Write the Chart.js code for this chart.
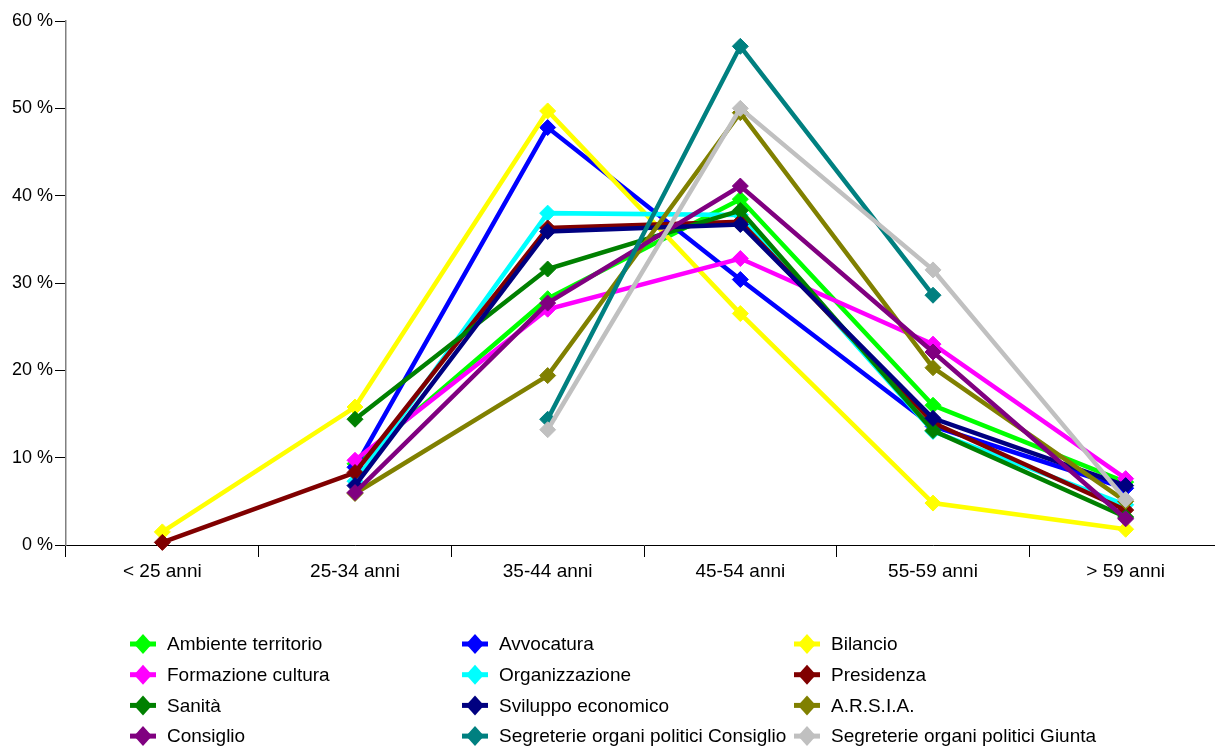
<!DOCTYPE html>
<html>
<head>
<meta charset="utf-8">
<script src="https://cdn.jsdelivr.net/npm/chart.js@4.4.0/dist/chart.umd.min.js"></script>
<style>
  html, body { margin: 0; padding: 0; background: #fff; overflow: hidden; }
  #wrap { position: relative; width: 1215px; height: 747px; overflow: hidden; }
  #wrap canvas { display: block; }
</style>
</head>
<body>
<div id="wrap"><canvas id="lineChart" width="1222" height="747"></canvas></div>
<script>
(function () {
    "use strict";

    var categories = ["< 25 anni", "25-34 anni", "35-44 anni", "45-54 anni", "55-59 anni", "> 59 anni"];
    var yTicks = [0, 10, 20, 30, 40, 50, 60];

    var ambiente = [null, 9.3, 28.2, 39.6, 16.0, 7.2];
    var avvocatura = [null, 8.9, 47.8, 30.4, 13.6, 6.5];
    var bilancio = [1.5, 15.8, 49.7, 26.5, 4.8, 1.8];
    var formazione = [null, 9.7, 27.0, 32.8, 23.0, 7.6];
    var organizzazione = [null, 7.3, 38.0, 37.8, 13.0, 4.6];
    var presidenza = [0.3, 8.3, 36.3, 37.0, 14.0, 4.0];
    var sanita = [null, 14.4, 31.6, 38.3, 13.1, 3.2];
    var sviluppo = [null, 6.8, 35.9, 36.7, 14.5, 6.8];
    var arsia = [null, 5.9, 19.4, 49.5, 20.3, 5.0];
    var consiglio = [null, 6.0, 27.7, 41.1, 22.1, 3.0];
    var segrConsiglio = [null, null, 14.4, 57.1, 28.6, null];
    var segrGiunta = [null, null, 13.2, 50.0, 31.5, 5.2];

    var seriesNames = ["Ambiente territorio", "Avvocatura", "Bilancio", "Formazione cultura",
        "Organizzazione", "Presidenza", "Sanità", "Sviluppo economico", "A.R.S.I.A.",
        "Consiglio", "Segreterie organi politici Consiglio", "Segreterie organi politici Giunta"];
    var seriesValues = [ambiente, avvocatura, bilancio, formazione, organizzazione, presidenza,
        sanita, sviluppo, arsia, consiglio, segrConsiglio, segrGiunta];
    var seriesColors = ["#00FF00", "#0000FF", "#FFFF00", "#FF00FF", "#00FFFF", "#800000",
        "#008000", "#000080", "#808000", "#800080", "#008080", "#C0C0C0"];

    var FONT = "'Liberation Sans', Arial, sans-serif";

    var datasets = seriesNames.map(function (name, i) {
        return {
            label: name,
            data: seriesValues[i],
            borderColor: seriesColors[i],
            backgroundColor: seriesColors[i],
            pointBackgroundColor: seriesColors[i],
            pointBorderColor: seriesColors[i],
            borderWidth: 4.5,
            pointStyle: "rectRot",
            pointRadius: 8,
            pointBorderWidth: 1,
            tension: 0,
            spanGaps: false,
            fill: false,
            clip: false,
            order: seriesNames.length - i
        };
    });

    // legend in 3 columns under the plot
    var gridLegend = {
        id: "gridLegend",
        afterDraw: function (chart) {
            var ctx = chart.ctx;
            ctx.save();
            ctx.font = "19px " + FONT;
            ctx.textBaseline = "middle";
            chart.data.datasets.forEach(function (ds, i) {
                var col = i % 3, row = Math.floor(i / 3);
                var x0 = 130 + col * 332;
                var y = 644 + row * 30.7;
                ctx.strokeStyle = ds.borderColor;
                ctx.lineWidth = 5;
                ctx.beginPath();
                ctx.moveTo(x0, y);
                ctx.lineTo(x0 + 26, y);
                ctx.stroke();
                ctx.fillStyle = ds.borderColor;
                ctx.beginPath();
                ctx.moveTo(x0 + 13 - 9, y);
                ctx.lineTo(x0 + 13, y - 10);
                ctx.lineTo(x0 + 13 + 9, y);
                ctx.lineTo(x0 + 13, y + 10);
                ctx.closePath();
                ctx.fill();
                ctx.fillStyle = "#000";
                ctx.fillText(ds.label, x0 + 37, y + 1);
            });
            ctx.restore();
        }
    };

    var ctx = document.getElementById("lineChart").getContext("2d");
    var lineChart = new Chart(ctx, {
        type: "line",
        data: { labels: categories, datasets: datasets },
        options: {
            responsive: false,
            animation: false,
            layout: { autoPadding: false, padding: { top: 21, right: 0, bottom: 157, left: 0 } },
            plugins: { legend: { display: false }, tooltip: { enabled: false } },
            scales: {
                x: {
                    offset: true,
                    grid: { drawOnChartArea: false, drawTicks: true, tickLength: 12, color: "#000", offset: true },
                    border: { display: true, color: "#000", width: 1 },
                    ticks: { color: "#000", font: { size: 19, family: FONT }, padding: 3, maxRotation: 0 },
                    afterFit: function (scale) {
                        scale.height = 45;
                        scale.paddingLeft = 0;
                        scale.paddingRight = 0;
                    }
                },
                y: {
                    min: 0,
                    max: 60,
                    afterBuildTicks: function (scale) {
                        scale.ticks = yTicks.map(function (v) { return { value: v }; });
                    },
                    grid: { drawOnChartArea: false, drawTicks: true, tickLength: 11, color: "#000" },
                    border: { display: true, color: "#808080", width: 1.5 },
                    ticks: {
                        color: "#000",
                        font: { size: 18, family: FONT },
                        padding: 2,
                        callback: function (v) { return v + " %"; }
                    },
                    afterFit: function (scale) { scale.width = 66; }
                }
            }
        },
        plugins: [gridLegend]
    });
})();
</script>
</body>
</html>
